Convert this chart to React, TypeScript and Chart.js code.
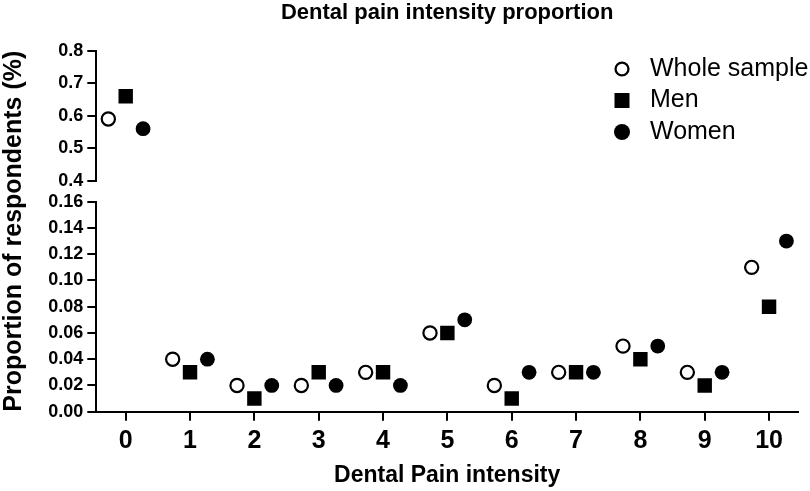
import { useEffect, useRef } from 'react';
import { Chart, registerables } from 'chart.js';

Chart.register(...registerables);
Chart.defaults.font.family = '"Liberation Sans", Arial, Helvetica, sans-serif';
Chart.defaults.color = '#000';

// ---------- data ----------
const categories = [0, 1, 2, 3, 4, 5, 6, 7, 8, 9, 10];
const seriesNames = ['Whole sample', 'Men', 'Women'];
const wholeSample = [0.59, 0.04, 0.02, 0.02, 0.03, 0.06, 0.02, 0.03, 0.05, 0.03, 0.11];
const men = [0.66, 0.03, 0.01, 0.03, 0.03, 0.06, 0.01, 0.03, 0.04, 0.02, 0.08];
const women = [0.56, 0.04, 0.02, 0.02, 0.02, 0.07, 0.03, 0.03, 0.05, 0.03, 0.13];
const lowerTicks = [0, 0.02, 0.04, 0.06, 0.08, 0.1, 0.12, 0.14, 0.16];
const upperTicks = [0.4, 0.5, 0.6, 0.7, 0.8];
const xTicks = [0, 1, 2, 3, 4, 5, 6, 7, 8, 9, 10];

const title = 'Dental pain intensity proportion';
const xTitle = 'Dental Pain intensity';
const yTitle = 'Proportion of respondents (%)';

// ---------- layout / style ----------
const LOW_MIN = 0;
const LOW_MAX = 0.16;
const HIGH_MIN = 0.4;
const HIGH_MAX = 0.8;
const dodge = [-0.27, 0, 0.27];

const markerStyles = [
  { pointStyle: 'circle', radius: 6.6, borderWidth: 2.2, bg: '#ffffff' },
  { pointStyle: 'rect', radius: 10.2, borderWidth: 0, bg: '#000000' },
  { pointStyle: 'circle', radius: 7.4, borderWidth: 0, bg: '#000000' },
];
const legendMarkers = [
  { kind: 'circle', size: 7.6, borderWidth: 2.3, bg: '#ffffff' },
  { kind: 'rect', size: 15, borderWidth: 0, bg: '#000000' },
  { kind: 'circle', size: 8, borderWidth: 0, bg: '#000000' },
];
const LEGEND_MARKER_X = 622;
const LEGEND_TEXT_X = 650;
const LEGEND_TOP = 69;
const LEGEND_STEP = 31.5;

const FONT = '"Liberation Sans", Arial, Helvetica, sans-serif';

const seriesValues = [wholeSample, men, women];

function buildDatasets() {
  const out: any[] = [];
  seriesValues.forEach((vals, i) => {
    const pts = vals.map((v, j) => ({ x: categories[j] + dodge[i], y: v }));
    const st = markerStyles[i];
    (['yLow', 'yHigh'] as const).forEach((axis) => {
      out.push({
        label: seriesNames[i],
        yAxisID: axis,
        data: pts.filter((p) => (axis === 'yHigh' ? p.y >= HIGH_MIN : p.y <= LOW_MAX)),
        showLine: false,
        pointStyle: st.pointStyle,
        pointRadius: st.radius,
        pointHoverRadius: st.radius,
        pointBorderWidth: st.borderWidth,
        pointHoverBorderWidth: st.borderWidth,
        borderColor: '#000000',
        backgroundColor: st.bg,
        pointBackgroundColor: st.bg,
        pointBorderColor: '#000000',
      });
    });
  });
  return out;
}

const overlayPlugin = {
  id: 'overlay',
  afterDraw(chart: any) {
    const ctx: CanvasRenderingContext2D = chart.ctx;
    const area = chart.chartArea;
    ctx.save();
    // y-axis title centered on the whole (broken) axis
    ctx.translate(20.5, (area.top + area.bottom) / 2);
    ctx.rotate(-Math.PI / 2);
    ctx.font = `bold 25px ${FONT}`;
    ctx.fillStyle = '#000';
    ctx.textAlign = 'center';
    ctx.textBaseline = 'alphabetic';
    ctx.fillText(yTitle, 0, 0);
    ctx.restore();

    // legend
    ctx.save();
    seriesNames.forEach((name, i) => {
      const y = LEGEND_TOP + i * LEGEND_STEP;
      const m = legendMarkers[i];
      ctx.beginPath();
      if (m.kind === 'rect') {
        ctx.rect(LEGEND_MARKER_X - m.size / 2, y - m.size / 2, m.size, m.size);
      } else {
        ctx.arc(LEGEND_MARKER_X, y, m.size - m.borderWidth / 2, 0, Math.PI * 2);
      }
      ctx.fillStyle = m.bg;
      ctx.fill();
      if (m.borderWidth) {
        ctx.lineWidth = m.borderWidth;
        ctx.strokeStyle = '#000';
        ctx.stroke();
      }
      ctx.fillStyle = '#000';
      ctx.font = `25px ${FONT}`;
      ctx.textAlign = 'left';
      ctx.textBaseline = 'middle';
      ctx.fillText(name, LEGEND_TEXT_X, y);
    });
    ctx.restore();
  },
};

const axisGrid = { drawOnChartArea: false, drawTicks: true, tickLength: 9, color: '#000', lineWidth: 2 };
const axisBorder = { display: true, color: '#000', width: 2 };

export default function App() {
  const ref = useRef<HTMLCanvasElement>(null);

  useEffect(() => {
    if (!ref.current) return;
    const chart = new Chart(ref.current, {
      type: 'scatter',
      data: { datasets: buildDatasets() },
      plugins: [overlayPlugin],
      options: {
        responsive: false,
        maintainAspectRatio: false,
        animation: false,
        events: [],
        layout: { padding: { top: 0, left: 0, right: 12, bottom: 0 } },
        plugins: {
          legend: { display: false },
          tooltip: { enabled: false },
          title: {
            display: true,
            text: title,
            fullSize: false,
            color: '#000',
            font: { size: 22, weight: 'bold' },
            padding: { top: 0, bottom: 24.3 },
          },
        },
        scales: {
          x: {
            type: 'linear',
            position: 'bottom',
            min: -0.457,
            max: 10.45,
            afterBuildTicks: (s: any) => {
              s.ticks = xTicks.map((v) => ({ value: v }));
            },
            afterFit: (s: any) => {
              s.height = 79.3;
            },
            ticks: {
              color: '#000',
              font: { size: 25, weight: 'bold' },
              padding: 5,
              autoSkip: false,
              maxRotation: 0,
              callback: (v: any) => String(v),
            },
            grid: axisGrid,
            border: axisBorder,
            title: {
              display: true,
              text: xTitle,
              color: '#000',
              font: { size: 23, weight: 'bold' },
              padding: { top: 0, bottom: 2 },
            },
          },
          yLow: {
            type: 'linear',
            position: 'left',
            stack: 'y',
            stackWeight: 210,
            min: LOW_MIN,
            max: LOW_MAX,
            afterBuildTicks: (s: any) => {
              s.ticks = lowerTicks.map((v) => ({ value: v }));
            },
            afterFit: (s: any) => {
              s.width = 96.3;
            },
            ticks: {
              color: '#000',
              font: { size: 18, weight: 'bold' },
              padding: 4,
              autoSkip: false,
              callback: (v: any) => Number(v).toFixed(2),
            },
            grid: axisGrid,
            border: axisBorder,
          },
          yGap: {
            type: 'linear',
            position: 'left',
            stack: 'y',
            stackWeight: 21,
            min: 0,
            max: 1,
            afterFit: (s: any) => {
              s.width = 96.3;
            },
            ticks: { display: false },
            grid: { display: false, drawTicks: false },
            border: { display: false },
          },
          yHigh: {
            type: 'linear',
            position: 'left',
            stack: 'y',
            stackWeight: 130,
            min: HIGH_MIN,
            max: HIGH_MAX,
            afterBuildTicks: (s: any) => {
              s.ticks = upperTicks.map((v) => ({ value: v }));
            },
            afterFit: (s: any) => {
              s.width = 96.3;
            },
            ticks: {
              color: '#000',
              font: { size: 18, weight: 'bold' },
              padding: 4,
              autoSkip: false,
              callback: (v: any) => Number(v).toFixed(1),
            },
            grid: axisGrid,
            border: axisBorder,
          },
        },
      } as any,
    });
    return () => chart.destroy();
  }, []);

  return (
    <div style={{ position: 'absolute', left: 0, top: 0, width: 810, height: 491, background: '#fff' }}>
      <canvas ref={ref} width={810} height={491} style={{ display: 'block', width: 810, height: 491 }} />
    </div>
  );
}
